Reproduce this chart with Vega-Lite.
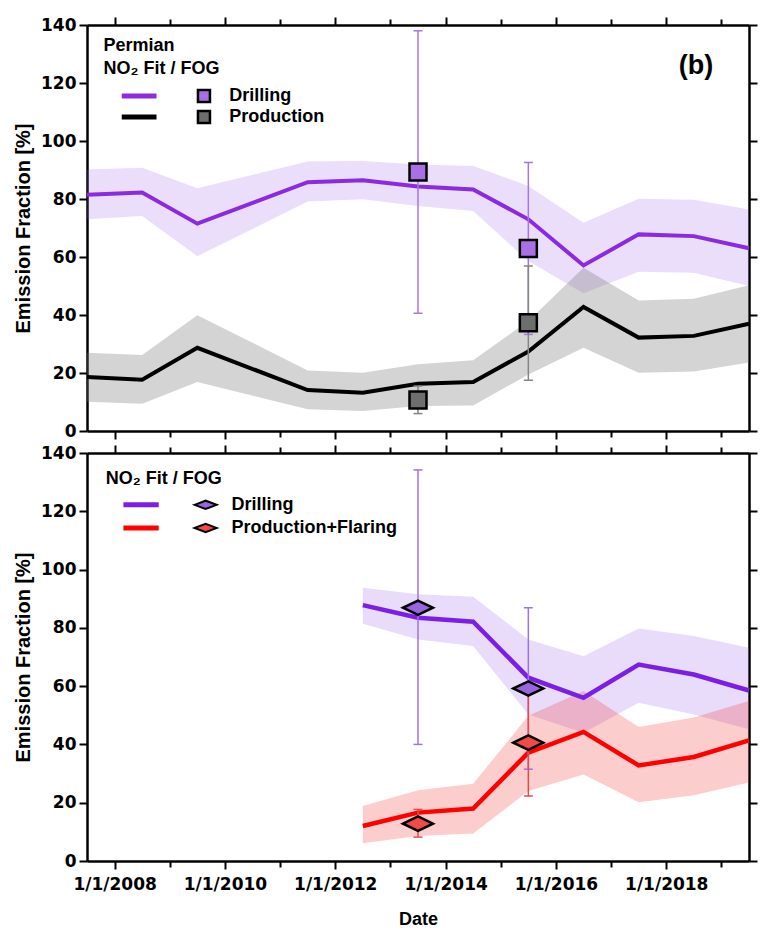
{
  "$schema": "https://vega.github.io/schema/vega-lite/v6.json",
  "padding": {"left": 13, "top": 16, "right": 5, "bottom": 5},
  "bounds": "flush",
  "spacing": 22,
  "datasets": {
    "topLines": [
      {"yr": 2007.5, "d": 81.5, "dLo": 73.0, "dHi": 90.2, "p": 18.6, "pLo": 10.1, "pHi": 27.0},
      {"yr": 2008.5, "d": 82.2, "dLo": 74.1, "dHi": 90.8, "p": 17.7, "pLo": 9.4, "pHi": 26.2},
      {"yr": 2009.5, "d": 71.5, "dLo": 60.3, "dHi": 83.7, "p": 28.7, "pLo": 16.9, "pHi": 39.9},
      {"yr": 2011.5, "d": 85.8, "dLo": 79.1, "dHi": 92.9, "p": 14.1, "pLo": 7.5, "pHi": 20.9},
      {"yr": 2012.5, "d": 86.5, "dLo": 79.9, "dHi": 93.1, "p": 13.2, "pLo": 6.9, "pHi": 20.1},
      {"yr": 2013.5, "d": 84.3, "dLo": 77.6, "dHi": 91.9, "p": 16.3, "pLo": 8.6, "pHi": 23.0},
      {"yr": 2014.5, "d": 83.3, "dLo": 75.9, "dHi": 91.4, "p": 16.9, "pLo": 8.8, "pHi": 24.4},
      {"yr": 2015.5, "d": 73.0, "dLo": 58.6, "dHi": 84.5, "p": 27.4, "pLo": 19.5, "pHi": 37.9},
      {"yr": 2016.5, "d": 57.1, "dLo": 47.5, "dHi": 71.8, "p": 42.8, "pLo": 28.7, "pHi": 56.3},
      {"yr": 2017.5, "d": 67.8, "dLo": 54.9, "dHi": 80.1, "p": 32.2, "pLo": 20.1, "pHi": 45.0},
      {"yr": 2018.5, "d": 67.2, "dLo": 54.6, "dHi": 79.7, "p": 32.8, "pLo": 20.5, "pHi": 45.6},
      {"yr": 2019.5, "d": 63.0, "dLo": 50.0, "dHi": 76.4, "p": 37.0, "pLo": 23.6, "pHi": 50.3}
    ],
    "topPts": [
      {"yr": 2013.5, "d": 89.3, "dLo": 40.6, "dHi": 138.0, "p": 10.7, "pLo": 6.0, "pHi": 15.5},
      {"yr": 2015.5, "d": 62.9, "dLo": 33.3, "dHi": 92.6, "p": 37.3, "pLo": 17.5, "pHi": 56.9}
    ],
    "botLines": [
      {"yr": 2012.5, "d": 87.8, "dLo": 81.4, "dHi": 93.8, "p": 12.0, "pLo": 6.1, "pHi": 18.9},
      {"yr": 2013.5, "d": 83.5, "dLo": 76.0, "dHi": 91.5, "p": 16.6, "pLo": 8.6, "pHi": 24.3},
      {"yr": 2014.5, "d": 82.1, "dLo": 73.8, "dHi": 90.7, "p": 18.0, "pLo": 9.4, "pHi": 26.5},
      {"yr": 2015.5, "d": 62.9, "dLo": 50.3, "dHi": 76.0, "p": 37.2, "pLo": 24.0, "pHi": 49.8},
      {"yr": 2016.5, "d": 56.0, "dLo": 44.0, "dHi": 70.3, "p": 44.3, "pLo": 29.7, "pHi": 58.3},
      {"yr": 2017.5, "d": 67.4, "dLo": 54.3, "dHi": 79.8, "p": 32.8, "pLo": 20.2, "pHi": 46.0},
      {"yr": 2018.5, "d": 64.0, "dLo": 50.3, "dHi": 77.2, "p": 35.7, "pLo": 22.6, "pHi": 49.2},
      {"yr": 2019.5, "d": 58.5, "dLo": 45.2, "dHi": 73.2, "p": 41.4, "pLo": 26.9, "pHi": 54.9}
    ],
    "botPts": [
      {"yr": 2013.5, "d": 86.9, "dLo": 40.0, "dHi": 134.2, "p": 12.8, "pLo": 8.2, "pHi": 17.7},
      {"yr": 2015.5, "d": 59.2, "dLo": 31.5, "dHi": 86.9, "p": 40.6, "pLo": 22.3, "pHi": 58.9}
    ]
  },
  "vconcat": [
    {
      "width": 662,
      "height": 406,
      "data": {"name": "topLines"},
      "layer": [
        {
          "mark": {"type": "area", "color": "#9B59E8", "opacity": 0.2},
          "encoding": {
            "x": {"field": "yr", "type": "quantitative", "scale": {"domain": [2007.5, 2019.5], "nice": false, "zero": false},
              "axis": {"orient": "bottom", "values": [2008, 2009, 2010, 2011, 2012, 2013, 2014, 2015, 2016, 2017, 2018, 2019], "labels": false, "title": null,
                "tickSize": {"condition": {"test": "datum.value % 2 === 0", "value": 8}, "value": 6}}},
            "y": {"field": "dLo", "type": "quantitative", "scale": {"domain": [0, 140], "nice": false, "zero": true},
              "axis": {"orient": "left", "values": [0, 20, 40, 60, 80, 100, 120, 140], "title": "Emission Fraction [%]", "tickSize": 8, "labelPadding": 3, "titlePadding": 7}},
            "y2": {"field": "dHi"}
          }
        },
        {
          "mark": {"type": "area", "color": "#7A7A7A", "opacity": 0.32},
          "encoding": {
            "x": {"field": "yr", "type": "quantitative",
              "axis": {"orient": "top", "values": [2008, 2009, 2010, 2011, 2012, 2013, 2014, 2015, 2016, 2017, 2018, 2019], "labels": false, "title": null,
                "tickSize": {"condition": {"test": "datum.value % 2 === 0", "value": 8}, "value": 6}}},
            "y": {"field": "pLo", "type": "quantitative",
              "axis": {"orient": "right", "values": [0, 20, 40, 60, 80, 100, 120, 140], "labels": false, "title": null, "tickSize": 8}},
            "y2": {"field": "pHi"}
          }
        },
        {
          "mark": {"type": "line", "color": "#8A2BE2", "strokeWidth": 4},
          "encoding": {"x": {"field": "yr", "type": "quantitative", "axis": null}, "y": {"field": "d", "type": "quantitative", "axis": null}}
        },
        {
          "mark": {"type": "line", "color": "#000000", "strokeWidth": 4},
          "encoding": {"x": {"field": "yr", "type": "quantitative", "axis": null}, "y": {"field": "p", "type": "quantitative", "axis": null}}
        },
        {
          "data": {"name": "topPts"},
          "mark": {"type": "rule", "color": "#A875E8", "strokeWidth": 1.5},
          "encoding": {"x": {"field": "yr", "type": "quantitative", "axis": null}, "y": {"field": "dLo", "type": "quantitative", "axis": null}, "y2": {"field": "dHi"}}
        },
        {
          "data": {"name": "topPts"},
          "mark": {"type": "tick", "orient": "horizontal", "color": "#A875E8", "size": 9, "thickness": 1.5, "opacity": 1},
          "encoding": {"x": {"field": "yr", "type": "quantitative", "axis": null}, "y": {"field": "dLo", "type": "quantitative", "axis": null}}
        },
        {
          "data": {"name": "topPts"},
          "mark": {"type": "tick", "orient": "horizontal", "color": "#A875E8", "size": 9, "thickness": 1.5, "opacity": 1},
          "encoding": {"x": {"field": "yr", "type": "quantitative", "axis": null}, "y": {"field": "dHi", "type": "quantitative", "axis": null}}
        },
        {
          "data": {"name": "topPts"},
          "mark": {"type": "rule", "color": "#858585", "strokeWidth": 1.5},
          "encoding": {"x": {"field": "yr", "type": "quantitative", "axis": null}, "y": {"field": "pLo", "type": "quantitative", "axis": null}, "y2": {"field": "pHi"}}
        },
        {
          "data": {"name": "topPts"},
          "mark": {"type": "tick", "orient": "horizontal", "color": "#858585", "size": 9, "thickness": 1.5, "opacity": 1},
          "encoding": {"x": {"field": "yr", "type": "quantitative", "axis": null}, "y": {"field": "pLo", "type": "quantitative", "axis": null}}
        },
        {
          "data": {"name": "topPts"},
          "mark": {"type": "tick", "orient": "horizontal", "color": "#858585", "size": 9, "thickness": 1.5, "opacity": 1},
          "encoding": {"x": {"field": "yr", "type": "quantitative", "axis": null}, "y": {"field": "pHi", "type": "quantitative", "axis": null}}
        },
        {
          "data": {"name": "topPts"},
          "mark": {"type": "point", "shape": "square", "filled": true, "fill": "#A970E6", "stroke": "#000000", "strokeWidth": 2.5, "size": 289, "opacity": 1},
          "encoding": {"x": {"field": "yr", "type": "quantitative", "axis": null}, "y": {"field": "d", "type": "quantitative", "axis": null}}
        },
        {
          "data": {"name": "topPts"},
          "mark": {"type": "point", "shape": "square", "filled": true, "fill": "#6E6E6E", "stroke": "#000000", "strokeWidth": 2.5, "size": 289, "opacity": 1},
          "encoding": {"x": {"field": "yr", "type": "quantitative", "axis": null}, "y": {"field": "p", "type": "quantitative", "axis": null}}
        },
        {
          "data": {"values": [{}]},
          "mark": {"type": "text", "text": "Permian", "font": "Liberation Sans", "fontWeight": "bold", "fontSize": 18, "align": "left", "baseline": "middle", "color": "#000000"},
          "encoding": {"x": {"datum": 2007.8, "type": "quantitative", "axis": null}, "y": {"datum": 132.8, "type": "quantitative", "axis": null}}
        },
        {
          "data": {"values": [{}]},
          "mark": {"type": "text", "text": "NO₂ Fit / FOG", "font": "Liberation Sans", "fontWeight": "bold", "fontSize": 18, "align": "left", "baseline": "middle", "color": "#000000"},
          "encoding": {"x": {"datum": 2007.8, "type": "quantitative", "axis": null}, "y": {"datum": 124.8, "type": "quantitative", "axis": null}}
        },
        {
          "data": {"values": [{}]},
          "mark": {"type": "rule", "color": "#8A2BE2", "strokeWidth": 5},
          "encoding": {"x": {"datum": 2008.13, "type": "quantitative", "axis": null}, "x2": {"datum": 2008.76}, "y": {"datum": 115.5, "type": "quantitative", "axis": null}}
        },
        {
          "data": {"values": [{}]},
          "mark": {"type": "rule", "color": "#000000", "strokeWidth": 5},
          "encoding": {"x": {"datum": 2008.13, "type": "quantitative", "axis": null}, "x2": {"datum": 2008.76}, "y": {"datum": 108.3, "type": "quantitative", "axis": null}}
        },
        {
          "data": {"values": [{}]},
          "mark": {"type": "point", "shape": "square", "filled": true, "fill": "#A970E6", "stroke": "#000000", "strokeWidth": 2.5, "size": 144, "opacity": 1},
          "encoding": {"x": {"datum": 2009.62, "type": "quantitative", "axis": null}, "y": {"datum": 115.5, "type": "quantitative", "axis": null}}
        },
        {
          "data": {"values": [{}]},
          "mark": {"type": "point", "shape": "square", "filled": true, "fill": "#6E6E6E", "stroke": "#000000", "strokeWidth": 2.5, "size": 144, "opacity": 1},
          "encoding": {"x": {"datum": 2009.62, "type": "quantitative", "axis": null}, "y": {"datum": 108.3, "type": "quantitative", "axis": null}}
        },
        {
          "data": {"values": [{}]},
          "mark": {"type": "text", "text": "Drilling", "font": "Liberation Sans", "fontWeight": "bold", "fontSize": 18, "align": "left", "baseline": "middle", "color": "#000000"},
          "encoding": {"x": {"datum": 2010.08, "type": "quantitative", "axis": null}, "y": {"datum": 115.5, "type": "quantitative", "axis": null}}
        },
        {
          "data": {"values": [{}]},
          "mark": {"type": "text", "text": "Production", "font": "Liberation Sans", "fontWeight": "bold", "fontSize": 18, "align": "left", "baseline": "middle", "color": "#000000"},
          "encoding": {"x": {"datum": 2010.08, "type": "quantitative", "axis": null}, "y": {"datum": 108.3, "type": "quantitative", "axis": null}}
        },
        {
          "data": {"values": [{}]},
          "mark": {"type": "text", "text": "(b)", "font": "Liberation Sans", "fontWeight": "bold", "fontSize": 27, "align": "center", "baseline": "middle", "color": "#000000"},
          "encoding": {"x": {"datum": 2018.54, "type": "quantitative", "axis": null}, "y": {"datum": 125.9, "type": "quantitative", "axis": null}}
        }
      ],
      "resolve": {"axis": {"x": "independent", "y": "independent"}}
    },
    {
      "width": 662,
      "height": 408,
      "data": {"name": "botLines"},
      "layer": [
        {
          "mark": {"type": "area", "color": "#9B59E8", "opacity": 0.22},
          "encoding": {
            "x": {"field": "yr", "type": "quantitative", "scale": {"domain": [2007.5, 2019.5], "nice": false, "zero": false},
              "axis": {"orient": "bottom", "values": [2008, 2009, 2010, 2011, 2012, 2013, 2014, 2015, 2016, 2017, 2018, 2019], "title": "Date", "titleFontSize": 18, "titlePadding": 18,
                "labelExpr": "datum.value % 2 === 0 ? '1/1/' + datum.value : ''", "labelOverlap": false, "labelFlush": false, "labelPadding": 7, "labelFontSize": 17,
                "tickSize": {"condition": {"test": "datum.value % 2 === 0", "value": 8}, "value": 6}}},
            "y": {"field": "dLo", "type": "quantitative", "scale": {"domain": [0, 140], "nice": false, "zero": true},
              "axis": {"orient": "left", "values": [0, 20, 40, 60, 80, 100, 120, 140], "title": "Emission Fraction [%]", "tickSize": 8, "labelPadding": 3, "titlePadding": 7}},
            "y2": {"field": "dHi"}
          }
        },
        {
          "mark": {"type": "area", "color": "#F03030", "opacity": 0.24},
          "encoding": {
            "x": {"field": "yr", "type": "quantitative",
              "axis": {"orient": "top", "values": [2008, 2009, 2010, 2011, 2012, 2013, 2014, 2015, 2016, 2017, 2018, 2019], "labels": false, "title": null,
                "tickSize": {"condition": {"test": "datum.value % 2 === 0", "value": 8}, "value": 6}}},
            "y": {"field": "pLo", "type": "quantitative",
              "axis": {"orient": "right", "values": [0, 20, 40, 60, 80, 100, 120, 140], "labels": false, "title": null, "tickSize": 8}},
            "y2": {"field": "pHi"}
          }
        },
        {
          "mark": {"type": "line", "color": "#7B1FE6", "strokeWidth": 4.5},
          "encoding": {"x": {"field": "yr", "type": "quantitative", "axis": null}, "y": {"field": "d", "type": "quantitative", "axis": null}}
        },
        {
          "mark": {"type": "line", "color": "#FF0000", "strokeWidth": 4.5},
          "encoding": {"x": {"field": "yr", "type": "quantitative", "axis": null}, "y": {"field": "p", "type": "quantitative", "axis": null}}
        },
        {
          "data": {"name": "botPts"},
          "mark": {"type": "rule", "color": "#A072E8", "strokeWidth": 1.5},
          "encoding": {"x": {"field": "yr", "type": "quantitative", "axis": null}, "y": {"field": "dLo", "type": "quantitative", "axis": null}, "y2": {"field": "dHi"}}
        },
        {
          "data": {"name": "botPts"},
          "mark": {"type": "tick", "orient": "horizontal", "color": "#A072E8", "size": 9, "thickness": 1.5, "opacity": 1},
          "encoding": {"x": {"field": "yr", "type": "quantitative", "axis": null}, "y": {"field": "dLo", "type": "quantitative", "axis": null}}
        },
        {
          "data": {"name": "botPts"},
          "mark": {"type": "tick", "orient": "horizontal", "color": "#A072E8", "size": 9, "thickness": 1.5, "opacity": 1},
          "encoding": {"x": {"field": "yr", "type": "quantitative", "axis": null}, "y": {"field": "dHi", "type": "quantitative", "axis": null}}
        },
        {
          "data": {"name": "botPts"},
          "mark": {"type": "rule", "color": "#E84A4A", "strokeWidth": 1.5},
          "encoding": {"x": {"field": "yr", "type": "quantitative", "axis": null}, "y": {"field": "pLo", "type": "quantitative", "axis": null}, "y2": {"field": "pHi"}}
        },
        {
          "data": {"name": "botPts"},
          "mark": {"type": "tick", "orient": "horizontal", "color": "#E84A4A", "size": 9, "thickness": 1.5, "opacity": 1},
          "encoding": {"x": {"field": "yr", "type": "quantitative", "axis": null}, "y": {"field": "pLo", "type": "quantitative", "axis": null}}
        },
        {
          "data": {"name": "botPts"},
          "mark": {"type": "tick", "orient": "horizontal", "color": "#E84A4A", "size": 9, "thickness": 1.5, "opacity": 1},
          "encoding": {"x": {"field": "yr", "type": "quantitative", "axis": null}, "y": {"field": "pHi", "type": "quantitative", "axis": null}}
        },
        {
          "data": {"name": "botPts"},
          "mark": {"type": "point", "shape": "M-1,0L0,-0.48L1,0L0,0.48Z", "filled": true, "fill": "#9A66E0", "stroke": "#000000", "strokeWidth": 2.5, "size": 900, "opacity": 1},
          "encoding": {"x": {"field": "yr", "type": "quantitative", "axis": null}, "y": {"field": "d", "type": "quantitative", "axis": null}}
        },
        {
          "data": {"name": "botPts"},
          "mark": {"type": "point", "shape": "M-1,0L0,-0.48L1,0L0,0.48Z", "filled": true, "fill": "#F04A4A", "stroke": "#000000", "strokeWidth": 2.5, "size": 900, "opacity": 1},
          "encoding": {"x": {"field": "yr", "type": "quantitative", "axis": null}, "y": {"field": "p", "type": "quantitative", "axis": null}}
        },
        {
          "data": {"values": [{}]},
          "mark": {"type": "text", "text": "NO₂ Fit / FOG", "font": "Liberation Sans", "fontWeight": "bold", "fontSize": 18, "align": "left", "baseline": "middle", "color": "#000000"},
          "encoding": {"x": {"datum": 2007.84, "type": "quantitative", "axis": null}, "y": {"datum": 131.1, "type": "quantitative", "axis": null}}
        },
        {
          "data": {"values": [{}]},
          "mark": {"type": "rule", "color": "#7B1FE6", "strokeWidth": 5},
          "encoding": {"x": {"datum": 2008.16, "type": "quantitative", "axis": null}, "x2": {"datum": 2008.8}, "y": {"datum": 122.2, "type": "quantitative", "axis": null}}
        },
        {
          "data": {"values": [{}]},
          "mark": {"type": "rule", "color": "#FF0000", "strokeWidth": 5},
          "encoding": {"x": {"datum": 2008.16, "type": "quantitative", "axis": null}, "x2": {"datum": 2008.8}, "y": {"datum": 114.3, "type": "quantitative", "axis": null}}
        },
        {
          "data": {"values": [{}]},
          "mark": {"type": "point", "shape": "M-1,0L0,-0.38L1,0L0,0.38Z", "filled": true, "fill": "#9A66E0", "stroke": "#000000", "strokeWidth": 2, "size": 484, "opacity": 1},
          "encoding": {"x": {"datum": 2009.65, "type": "quantitative", "axis": null}, "y": {"datum": 122.2, "type": "quantitative", "axis": null}}
        },
        {
          "data": {"values": [{}]},
          "mark": {"type": "point", "shape": "M-1,0L0,-0.38L1,0L0,0.38Z", "filled": true, "fill": "#F04A4A", "stroke": "#000000", "strokeWidth": 2, "size": 484, "opacity": 1},
          "encoding": {"x": {"datum": 2009.65, "type": "quantitative", "axis": null}, "y": {"datum": 114.3, "type": "quantitative", "axis": null}}
        },
        {
          "data": {"values": [{}]},
          "mark": {"type": "text", "text": "Drilling", "font": "Liberation Sans", "fontWeight": "bold", "fontSize": 18, "align": "left", "baseline": "middle", "color": "#000000"},
          "encoding": {"x": {"datum": 2010.12, "type": "quantitative", "axis": null}, "y": {"datum": 122.2, "type": "quantitative", "axis": null}}
        },
        {
          "data": {"values": [{}]},
          "mark": {"type": "text", "text": "Production+Flaring", "font": "Liberation Sans", "fontWeight": "bold", "fontSize": 18, "align": "left", "baseline": "middle", "color": "#000000"},
          "encoding": {"x": {"datum": 2010.12, "type": "quantitative", "axis": null}, "y": {"datum": 114.3, "type": "quantitative", "axis": null}}
        }
      ],
      "resolve": {"axis": {"x": "independent", "y": "independent"}}
    }
  ],
  "config": {
    "view": {"stroke": null},
    "font": "Liberation Sans",
    "axis": {
      "grid": false,
      "domainColor": "#000000",
      "domainWidth": 2.5,
      "tickColor": "#000000",
      "tickWidth": 2,
      "labelFont": "DejaVu Sans",
      "labelFontWeight": "bold",
      "labelFontSize": 17,
      "labelColor": "#000000",
      "titleFont": "Liberation Sans",
      "titleFontSize": 20,
      "titleFontWeight": "bold",
      "titleColor": "#000000"
    }
  }
}
